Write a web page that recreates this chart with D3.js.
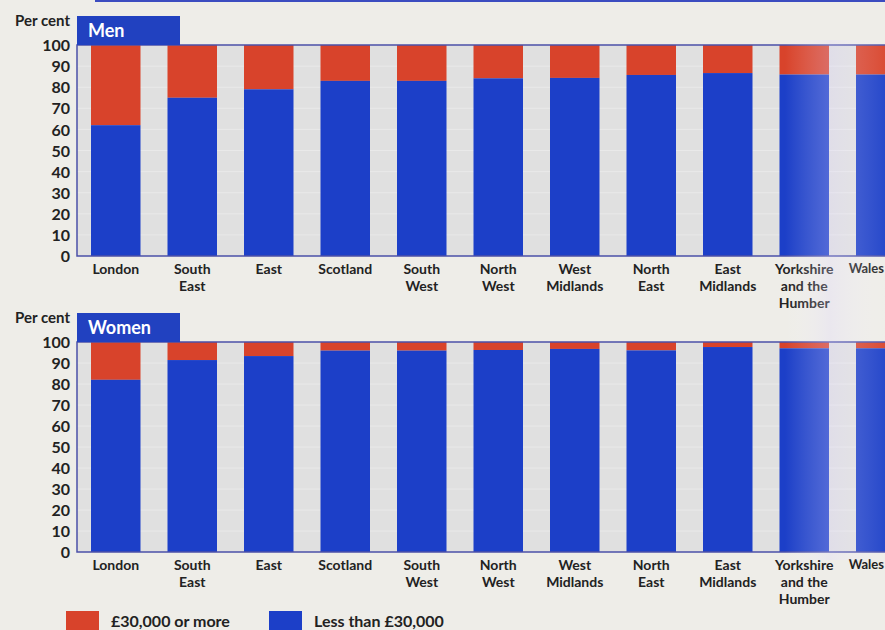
<!DOCTYPE html>
<html><head><meta charset="utf-8">
<script src="https://cdn.jsdelivr.net/npm/d3@7"></script>
<style>
html,body{margin:0;padding:0;background:#eeede8;}
svg{display:block;}
text{font-family:Lato,"Open Sans",sans-serif;font-weight:bold;fill:#222;}
</style></head>
<body>
<svg id="chart" width="885" height="630"></svg>
<script>
const categories = ["London","South East","East","Scotland","South West","North West","West Midlands","North East","East Midlands","Yorkshire and the Humber","Wales"];
const labelLines = [["London"],["South","East"],["East"],["Scotland"],["South","West"],["North","West"],["West","Midlands"],["North","East"],["East","Midlands"],["Yorkshire","and the","Humber"],["Wales"]];
const menLess30k   = [62, 75, 79, 83, 83, 84.2, 84.4, 85.8, 86.7, 86, 86];
const womenLess30k = [82, 91.4, 93.3, 95.9, 95.9, 96.2, 96.7, 96, 97.6, 97, 97];
const yTicks = [0,10,20,30,40,50,60,70,80,90,100];
const seriesNames = ["£30,000 or more","Less than £30,000"];
const RED = "#d8432b", BLUE = "#1c3fc8";

const svg = d3.select("#chart");
svg.append("rect").attr("x",95).attr("y",0).attr("width",790).attr("height",2).attr("fill","#3b4cc0");

const x = d3.scaleBand().domain(categories).range([77, 919.5]).paddingInner(0.353).paddingOuter(0.183);

function panel(title, values, top, bottom){
  const y = d3.scaleLinear().domain([0,100]).range([bottom, top]);
  const g = svg.append("g");
  g.append("rect").attr("x",77).attr("y",top).attr("width",900).attr("height",bottom-top).attr("fill","#e0e0e0");
  g.selectAll(".grid").data(yTicks.slice(1,-1)).join("line")
    .attr("x1",77).attr("x2",885).attr("y1",d=>y(d)).attr("y2",d=>y(d))
    .attr("stroke","#e9e9e9").attr("stroke-width",1);
  const bw = x.bandwidth();
  g.selectAll(".red").data(categories).join("rect")
    .attr("x",d=>x(d)).attr("width",bw)
    .attr("y",y(100)).attr("height",(d,i)=>y(values[i])-y(100)).attr("fill",RED);
  g.selectAll(".blue").data(categories).join("rect")
    .attr("x",d=>x(d)).attr("width",bw)
    .attr("y",(d,i)=>y(values[i])).attr("height",(d,i)=>y(0)-y(values[i])).attr("fill",BLUE);
  g.append("path").attr("d",`M885,${top}H77V${bottom}H885`).attr("fill","none").attr("stroke","#4b50a8").attr("stroke-width",1.5);
  const ax = d3.axisLeft(y).tickValues(yTicks).tickSize(0).tickPadding(0);
  const ag = g.append("g").attr("transform","translate(70,0)").call(ax);
  ag.select(".domain").remove();
  ag.selectAll("text").attr("font-size",16).attr("font-family","Lato,sans-serif").attr("font-weight","bold").attr("fill","#222").attr("dy","0.35em");
  g.append("text").attr("x",70).attr("y",top-19).attr("text-anchor","end").attr("font-size",15).text("Per cent");
  g.append("rect").attr("x",77).attr("y",top-29).attr("width",103).attr("height",29).attr("fill","#2141c0");
  g.append("text").attr("x",88).attr("y",top-8).attr("font-size",18).style("fill","#fff").text(title);
  const lg = g.selectAll(".xl").data(categories).join("text")
    .attr("text-anchor","middle").attr("font-size",14)
    .attr("transform",d=>`translate(${x(d)+bw/2},${bottom+18})`);
  lg.each(function(d,i){
    const t = d3.select(this);
    labelLines[i].forEach((ln,j)=>{
      t.append("tspan").attr("x",0).attr("dy",j===0?0:17).text(ln);
    });
    const bb = this.getBBox();
    const cx = x(d)+bw/2;
    if (cx + bb.x + bb.width > 884) {
      t.attr("text-anchor","end").attr("transform",`translate(884,${bottom+17})`).attr("font-size",13);
    }
  });
}
panel("Men", menLess30k, 45, 256);
panel("Women", womenLess30k, 342, 552);

const defs = svg.append("defs");
const gr = defs.append("linearGradient").attr("id","glare").attr("x1","0").attr("x2","1");
gr.append("stop").attr("offset","0").attr("stop-color","#ffffff").attr("stop-opacity",0);
gr.append("stop").attr("offset","0.45").attr("stop-color","#e0d8ff").attr("stop-opacity",0.28);
gr.append("stop").attr("offset","1").attr("stop-color","#ffffff").attr("stop-opacity",0.05);
svg.append("rect").attr("x",785).attr("y",40).attr("width",100).attr("height",520).attr("fill","url(#glare)");

const legend = svg.append("g");
[[RED,66,111],[BLUE,269,314]].forEach((c,i)=>{
  legend.append("rect").attr("x",c[1]).attr("y",611).attr("width",33).attr("height",20).attr("fill",c[0]);
  legend.append("text").attr("x",c[2]).attr("y",627).attr("font-size",16).text(seriesNames[i]);
});
</script>
</body></html>
